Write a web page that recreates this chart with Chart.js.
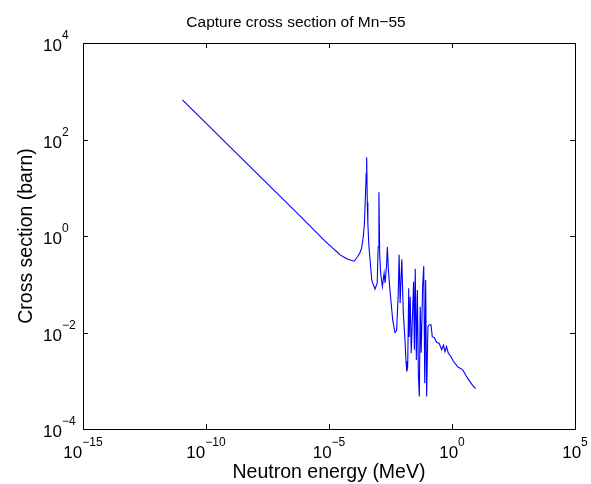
<!DOCTYPE html>
<html>
<head>
<meta charset="utf-8">
<script src="https://cdn.jsdelivr.net/npm/chart.js@4"></script>
<style>
  html, body { margin: 0; padding: 0; background: #fff; }
  #wrap { width: 591px; height: 484px; position: relative; }
</style>
</head>
<body>
<div id="wrap"><canvas id="mnChart"></canvas></div>
<script>
// Mn-55 capture cross section
const energyMeV = [
    1.1e-11, 6.6e-7, 6.9e-6, 1.1e-5, 1.6e-5, 2.2e-5, 2.75e-5, 3.8e-5, 5.9e-5, 1.05e-4,
    1.5e-4, 1.8e-4, 2.1e-4, 2.5e-4, 2.75e-4, 3.0e-4, 3.25e-4, 3.4e-4, 3.6e-4, 3.8e-4,
    4.2e-4, 5.5e-4, 7.4e-4, 9.1e-4, 1.0e-3, 1.07e-3, 1.15e-3, 1.26e-3, 1.48e-3, 1.74e-3,
    1.9e-3, 2.2e-3, 2.35e-3, 2.6e-3, 3.0e-3, 3.9e-3, 4.8e-3, 5.6e-3, 6.5e-3, 7.1e-3,
    7.8e-3, 9.1e-3, 1.05e-2, 1.23e-2, 1.35e-2, 1.45e-2, 1.58e-2, 1.74e-2, 1.82e-2, 2.0e-2,
    2.2e-2, 2.5e-2, 2.75e-2, 2.95e-2, 3.2e-2, 3.55e-2, 3.9e-2, 4.3e-2, 4.7e-2, 5.1e-2,
    5.6e-2, 6.4e-2, 7.1e-2, 7.8e-2, 8.5e-2, 9.3e-2, 0.105, 0.12, 0.14, 0.158,
    0.19, 0.24, 0.30, 0.38, 0.45, 0.52, 0.60, 0.71, 0.89, 1.15,
    1.8, 2.7, 4.0, 6.3, 9.1
];
const crossSection = [
    660, 2.6, 0.78, 0.63, 0.53, 0.46, 0.41, 0.37, 0.33, 0.30,
    0.38, 0.45, 0.55, 1.0, 1.8, 6.0, 20, 43, 5.0, 1.8,
    0.6, 0.12, 0.079, 0.105, 0.6, 8.1, 0.4, 0.17, 0.089, 0.17,
    0.107, 0.25, 0.59, 0.2, 0.076, 0.018, 0.010, 0.011, 0.06, 0.41,
    0.041, 0.33, 0.025, 0.0069, 0.0025, 0.00155, 0.00195, 0.083, 0.0081, 0.055,
    0.0037, 0.027, 0.112, 0.0044, 0.21, 0.0027, 0.076, 0.0014, 0.00047, 0.034,
    0.0038, 0.089, 0.24, 0.00089, 0.123, 0.00047, 0.013, 0.0145, 0.0145, 0.0081,
    0.0079, 0.0062, 0.0060, 0.0044, 0.0055, 0.0040, 0.0051, 0.0037, 0.0032, 0.0025,
    0.0019, 0.0017, 0.0012, 0.00085, 0.00069
];
const xTickExps = [-15, -10, -5, 0, 5];
const yTickExps = [-4, -2, 0, 2, 4];

const titleText = 'Capture cross section of Mn\u221255';
const xLabelText = 'Neutron energy (MeV)';
const yLabelText = 'Cross section (barn)';

const FONT = 'Liberation Sans, Arial, Helvetica, sans-serif';

function expStr(e) {
    return e < 0 ? '\u2212' + Math.abs(e) : String(e);
}

const matlabAxes = {
    id: 'matlabAxes',
    afterDraw(chart) {
        const ctx = chart.ctx;
        const a = chart.chartArea;
        const xs = chart.scales.x;
        const ys = chart.scales.y;
        const tickLen = 5;

        ctx.save();
        ctx.strokeStyle = '#000';
        ctx.lineWidth = 1;
        ctx.strokeRect(Math.round(a.left) + 0.5, Math.round(a.top) + 0.5,
            Math.round(a.right - a.left), Math.round(a.bottom - a.top));

        ctx.beginPath();
        xTickExps.forEach(e => {
            const px = Math.round(xs.getPixelForValue(Math.pow(10, e))) + 0.5;
            ctx.moveTo(px, a.bottom); ctx.lineTo(px, a.bottom - tickLen);
            ctx.moveTo(px, a.top); ctx.lineTo(px, a.top + tickLen);
        });
        yTickExps.forEach(e => {
            const py = Math.round(ys.getPixelForValue(Math.pow(10, e))) + 0.5;
            ctx.moveTo(a.left, py); ctx.lineTo(a.left + tickLen, py);
            ctx.moveTo(a.right, py); ctx.lineTo(a.right - tickLen, py);
        });
        ctx.stroke();

        ctx.fillStyle = '#000';
        ctx.textBaseline = 'alphabetic';
        const baseFont = '17px ' + FONT;
        const supFont = '12px ' + FONT;

        // x tick labels
        xTickExps.forEach(e => {
            const px = xs.getPixelForValue(Math.pow(10, e));
            ctx.font = baseFont;
            const w1 = ctx.measureText('10').width;
            ctx.font = supFont;
            const w2 = ctx.measureText(expStr(e)).width;
            const x0 = px - (w1 + w2) / 2;
            ctx.font = baseFont;
            ctx.textAlign = 'left';
            ctx.fillText('10', x0, a.bottom + 29);
            ctx.font = supFont;
            ctx.fillText(expStr(e), x0 + w1, a.bottom + 17);
        });

        // y tick labels
        yTickExps.forEach(e => {
            const py = ys.getPixelForValue(Math.pow(10, e));
            ctx.font = baseFont;
            ctx.textAlign = 'left';
            const w1 = ctx.measureText('10').width;
            ctx.fillText('10', 43, py + 8);
            ctx.font = supFont;
            ctx.fillText(expStr(e), 43 + w1, py - 4);
        });

        // title and axis labels
        ctx.textAlign = 'center';
        ctx.font = '15.5px ' + FONT;
        ctx.fillText(titleText, 296, 27);
        ctx.font = '19.5px ' + FONT;
        ctx.fillText(xLabelText, (a.left + a.right) / 2, 478);
        ctx.save();
        ctx.translate(32, (a.top + a.bottom) / 2);
        ctx.rotate(-Math.PI / 2);
        ctx.fillText(yLabelText, 0, 0);
        ctx.restore();

        ctx.restore();
    }
};

const points = energyMeV.map((e, i) => ({ x: e, y: crossSection[i] }));

new Chart(document.getElementById('mnChart').getContext('2d'), {
    type: 'line',
    data: {
        datasets: [{
            label: 'Mn-55 capture',
            data: points,
            borderColor: '#0000ff',
            borderWidth: 1.1,
            pointRadius: 0,
            fill: false,
            tension: 0
        }]
    },
    options: {
        responsive: true,
        maintainAspectRatio: false,
        animation: false,
        layout: {
            padding: { left: 83, top: 43, right: 16, bottom: 55 }
        },
        scales: {
            x: {
                type: 'logarithmic',
                min: 1e-15,
                max: 1e5,
                display: false
            },
            y: {
                type: 'logarithmic',
                min: 1e-4,
                max: 1e4,
                display: false
            }
        },
        plugins: {
            legend: { display: false },
            tooltip: { enabled: false },
            title: { display: false }
        }
    },
    plugins: [matlabAxes]
});
</script>
</body>
</html>
